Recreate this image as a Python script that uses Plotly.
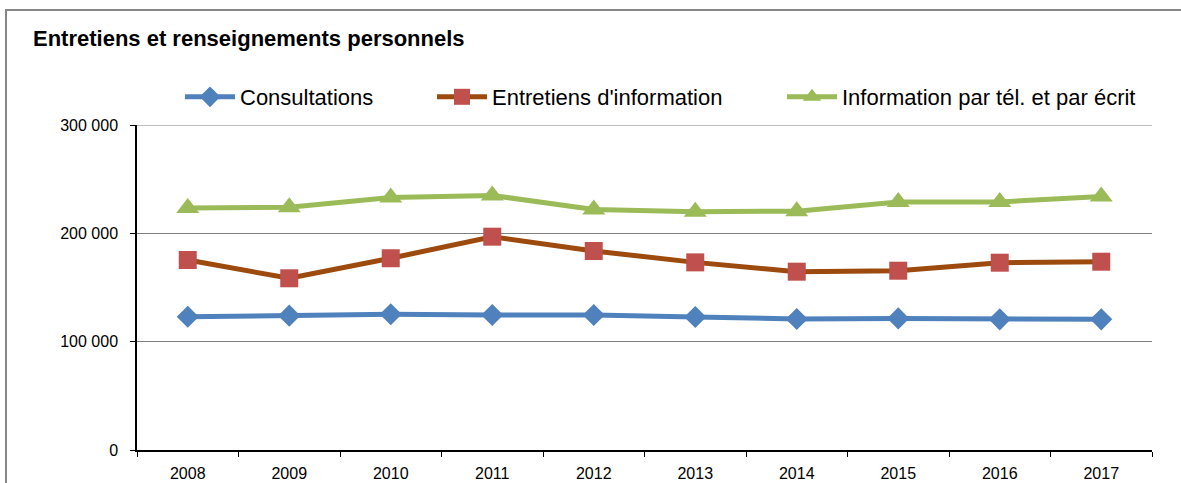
import plotly.graph_objects as go

years = ["2008", "2009", "2010", "2011", "2012", "2013", "2014", "2015", "2016", "2017"]
consultations = [123000, 124000, 125300, 124600, 124600, 122800, 120900, 121500, 120600, 120600]
entretiens = [175400, 158500, 177000, 196900, 183700, 173200, 164600, 165500, 172900, 173800]
information = [223500, 224000, 233000, 235000, 222000, 220000, 220500, 229000, 229000, 234000]

y_ticks = [0, 100000, 200000, 300000]
y_labels = ["0", "100 000", "200 000", "300 000"]

W, H = 1181, 483
L, R, T, B = 137, 1152, 125, 450

fig = go.Figure()
fig.add_trace(go.Scatter(
    x=years, y=consultations, name="Consultations", mode="lines+markers",
    line=dict(color="#4F81BD", width=5),
    marker=dict(symbol="diamond", size=17, color="#4F81BD"),
    legend="legend"))
fig.add_trace(go.Scatter(
    x=years, y=entretiens, name="Entretiens d'information", mode="lines+markers",
    line=dict(color="#9C4A0E", width=5),
    marker=dict(symbol="square", size=18, color="#C0504D"),
    legend="legend2"))
fig.add_trace(go.Scatter(
    x=years, y=information, name="Information par tél. et par écrit", mode="lines+markers",
    line=dict(color="#9BBB59", width=5),
    marker=dict(symbol="triangle-up", size=20, color="#9BBB59"),
    legend="legend3"))

leg_font = dict(family="Liberation Sans, Arial, sans-serif", size=22, color="#000000")
def leg(px):
    return dict(xref="container", yref="container", x=px / W, y=1 - 97 / H,
                xanchor="left", yanchor="middle", font=leg_font,
                bgcolor="rgba(0,0,0,0)", borderwidth=0, itemwidth=50)

axis_font = dict(family="Liberation Sans, Arial, sans-serif", size=16, color="#000000")

fig.update_layout(
    width=W, height=H,
    margin=dict(l=L, r=W - R, t=T, b=H - B, pad=0, autoexpand=False),
    paper_bgcolor="white", plot_bgcolor="white",
    showlegend=True,
    legend=leg(180),
    legend2=leg(432),
    legend3=leg(782),
    title=dict(text="<b>Entretiens et renseignements personnels</b>",
               x=33 / W, xanchor="left", y=1 - 38 / H, yanchor="middle",
               font=dict(family="Liberation Sans, Arial, sans-serif", size=22, color="#000000")),
    xaxis=dict(type="category", tickvals=years, ticktext=years, range=[-0.5, 9.5],
               showline=True, linecolor="#000000", linewidth=1.5,
               ticks="outside", tickson="boundaries", ticklen=5, tickcolor="#000000",
               showgrid=False, tickfont=axis_font, fixedrange=True, automargin=False,
               ticklabelstandoff=8),
    yaxis=dict(range=[0, 300000], tickvals=y_ticks, ticktext=y_labels,
               showline=True, linecolor="#000000", linewidth=1.5,
               ticks="outside", ticklen=5, tickcolor="#000000",
               showgrid=True, gridcolor="#7F7F7F", gridwidth=1, zeroline=False,
               tickfont=axis_font, automargin=False, ticklabelstandoff=9),
    shapes=[
        dict(type="rect", xref="paper", yref="paper",
             x0=(6 - L) / (R - L), x1=1.2, y0=(B - 10) / (B - T), y1=-0.3,
             line=dict(color="#868686", width=2), fillcolor="rgba(0,0,0,0)", layer="below"),
        dict(type="line", xref="paper", yref="y", x0=0, x1=1, y0=y_ticks[-1], y1=y_ticks[-1],
             line=dict(color="#7F7F7F", width=1), layer="below"),
    ],
)

fig.write_html("out.html", config={"displayModeBar": False},
               post_script="document.body.style.margin='0';document.body.style.padding='0';")
